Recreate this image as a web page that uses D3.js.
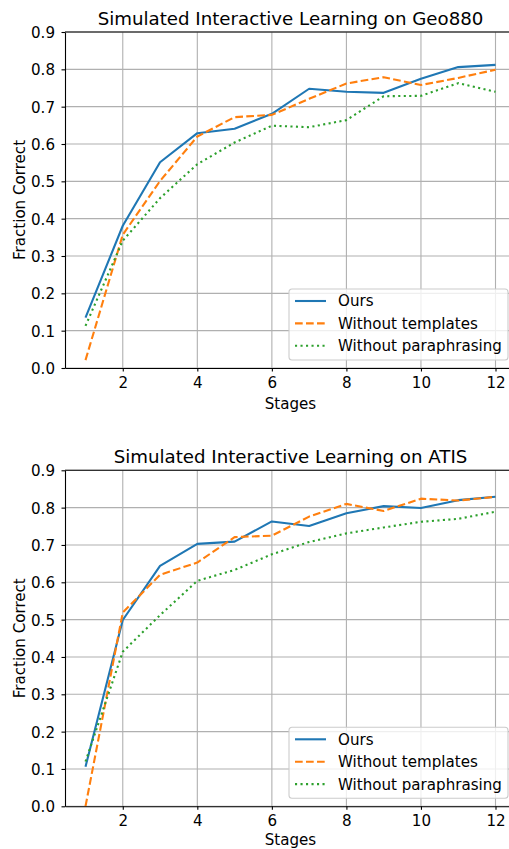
<!DOCTYPE html>
<meta charset="utf-8">
<script src="https://d3js.org/d3.v7.min.js"></script>
<style>
  body { margin: 0; background: #fff; }
  text { font-family: "DejaVu Sans", sans-serif; fill: #000; }
</style>
<body>
<div id="container"></div>
<script>
// values
var stages = [1, 2, 3, 4, 5, 6, 7, 8, 9, 10, 11, 12];
var xTicks = [2, 4, 6, 8, 10, 12];
var yTicks = [0, 0.1, 0.2, 0.3, 0.4, 0.5, 0.6, 0.7, 0.8, 0.9];
var seriesNames = ["Ours", "Without templates", "Without paraphrasing"];

var geoOurs          = [0.135, 0.381, 0.551, 0.629, 0.641, 0.681, 0.748, 0.740, 0.737, 0.775, 0.806, 0.812];
var geoNoTemplates   = [0.021, 0.357, 0.501, 0.620, 0.672, 0.678, 0.721, 0.762, 0.779, 0.758, 0.777, 0.799];
var geoNoParaphrase  = [0.113, 0.341, 0.455, 0.546, 0.604, 0.649, 0.645, 0.664, 0.728, 0.729, 0.763, 0.740];

var atisOurs         = [0.106, 0.499, 0.644, 0.703, 0.709, 0.763, 0.751, 0.785, 0.804, 0.799, 0.820, 0.829];
var atisNoTemplates  = [0.000, 0.519, 0.620, 0.653, 0.721, 0.725, 0.776, 0.810, 0.791, 0.824, 0.819, 0.829];
var atisNoParaphrase = [0.120, 0.414, 0.512, 0.604, 0.633, 0.675, 0.708, 0.731, 0.747, 0.762, 0.770, 0.789];

var panels = [
  {title: "Simulated Interactive Learning on Geo880", series: [geoOurs, geoNoTemplates, geoNoParaphrase]},
  {title: "Simulated Interactive Learning on ATIS", series: [atisOurs, atisNoTemplates, atisNoParaphrase]}
];

var colors = ["#1f77b4", "#ff7f0e", "#2ca02c"];
var dashes = [null, "7.7,3.3", "2.1,3.4"];

var W = 509, H = 849;
var fs = 15.1;
var plotLeft = 65, plotRight = 516, plotTop = 32, plotH = 336;
var panelStep = 438.3;

var svg = d3.select("#container").append("svg")
  .attr("width", W)
  .attr("height", H);

var x = d3.scaleLinear().domain([0.45, 12.55]).range([plotLeft, plotRight]);

panels.forEach(function(p, i) {
  var top = plotTop + i * panelStep;
  var y = d3.scaleLinear().domain([0, 0.9]).range([top + plotH, top]);
  var g = svg.append("g");

  // grid
  g.append("g").selectAll("line.gx")
    .data(xTicks).enter().append("line")
    .attr("x1", function(d) { return x(d); }).attr("x2", function(d) { return x(d); })
    .attr("y1", top).attr("y2", top + plotH)
    .attr("stroke", "#b0b0b0").attr("stroke-width", 1.1);
  g.append("g").selectAll("line.gy")
    .data(yTicks).enter().append("line")
    .attr("x1", plotLeft).attr("x2", plotRight)
    .attr("y1", function(d) { return y(d); }).attr("y2", function(d) { return y(d); })
    .attr("stroke", "#b0b0b0").attr("stroke-width", 1.1);

  // lines
  var line = d3.line()
    .x(function(d, j) { return x(stages[j]); })
    .y(function(d) { return y(d); });
  p.series.forEach(function(s, k) {
    g.append("path")
      .datum(s)
      .attr("d", line)
      .attr("fill", "none")
      .attr("stroke", colors[k])
      .attr("stroke-width", 2.1)
      .attr("stroke-dasharray", dashes[k])
      .attr("stroke-linejoin", "round");
  });

  // axes
  var ax = g.append("g")
    .attr("transform", "translate(0," + (top + plotH) + ")")
    .call(d3.axisBottom(x).tickValues(xTicks).tickSize(3.5).tickPadding(5.5).tickSizeOuter(0));
  var ay = g.append("g")
    .attr("transform", "translate(" + plotLeft + ",0)")
    .call(d3.axisLeft(y).tickValues(yTicks).tickSize(3.5).tickPadding(6.5).tickSizeOuter(0)
      .tickFormat(d3.format(".1f")));
  [ax, ay].forEach(function(a) {
    a.select(".domain").attr("stroke", "#000").attr("stroke-width", 1.1);
    a.selectAll(".tick line").attr("stroke", "#000").attr("stroke-width", 1.1);
    a.selectAll(".tick text").attr("font-size", fs).attr("font-family", "DejaVu Sans").attr("fill", "#000");
  });
  ay.selectAll(".tick text").attr("dy", "0.36em");
  // top spine
  g.append("line")
    .attr("x1", plotLeft).attr("x2", plotRight)
    .attr("y1", top).attr("y2", top)
    .attr("stroke", "#000").attr("stroke-width", 1.1);

  // title & labels
  var cx = (plotLeft + plotRight) / 2;
  g.append("text")
    .attr("x", cx).attr("y", top - 7)
    .attr("text-anchor", "middle")
    .attr("font-size", 18.2)
    .text(p.title);
  g.append("text")
    .attr("x", cx).attr("y", Math.min(top + plotH + 41, H - 4))
    .attr("text-anchor", "middle")
    .attr("font-size", fs)
    .text("Stages");
  g.append("text")
    .attr("transform", "translate(25," + (top + plotH / 2) + ") rotate(-90)")
    .attr("text-anchor", "middle")
    .attr("font-size", fs)
    .text("Fraction Correct");

  // legend
  var lx = 289, ly = top + 257;
  var leg = g.append("g").attr("transform", "translate(" + lx + "," + ly + ")");
  leg.append("rect")
    .attr("width", 219).attr("height", 71)
    .attr("rx", 3)
    .attr("fill", "#fff").attr("fill-opacity", 0.8)
    .attr("stroke", "#cccccc").attr("stroke-width", 1.1);
  seriesNames.forEach(function(name, k) {
    var ry = 12 + k * 22.4;
    leg.append("line")
      .attr("x1", 6).attr("x2", 37)
      .attr("y1", ry).attr("y2", ry)
      .attr("stroke", colors[k])
      .attr("stroke-width", 2.1)
      .attr("stroke-dasharray", dashes[k]);
    leg.append("text")
      .attr("x", 49).attr("y", ry)
      .attr("dy", "0.36em")
      .attr("font-size", fs)
      .text(name);
  });
});
</script>
</body>
